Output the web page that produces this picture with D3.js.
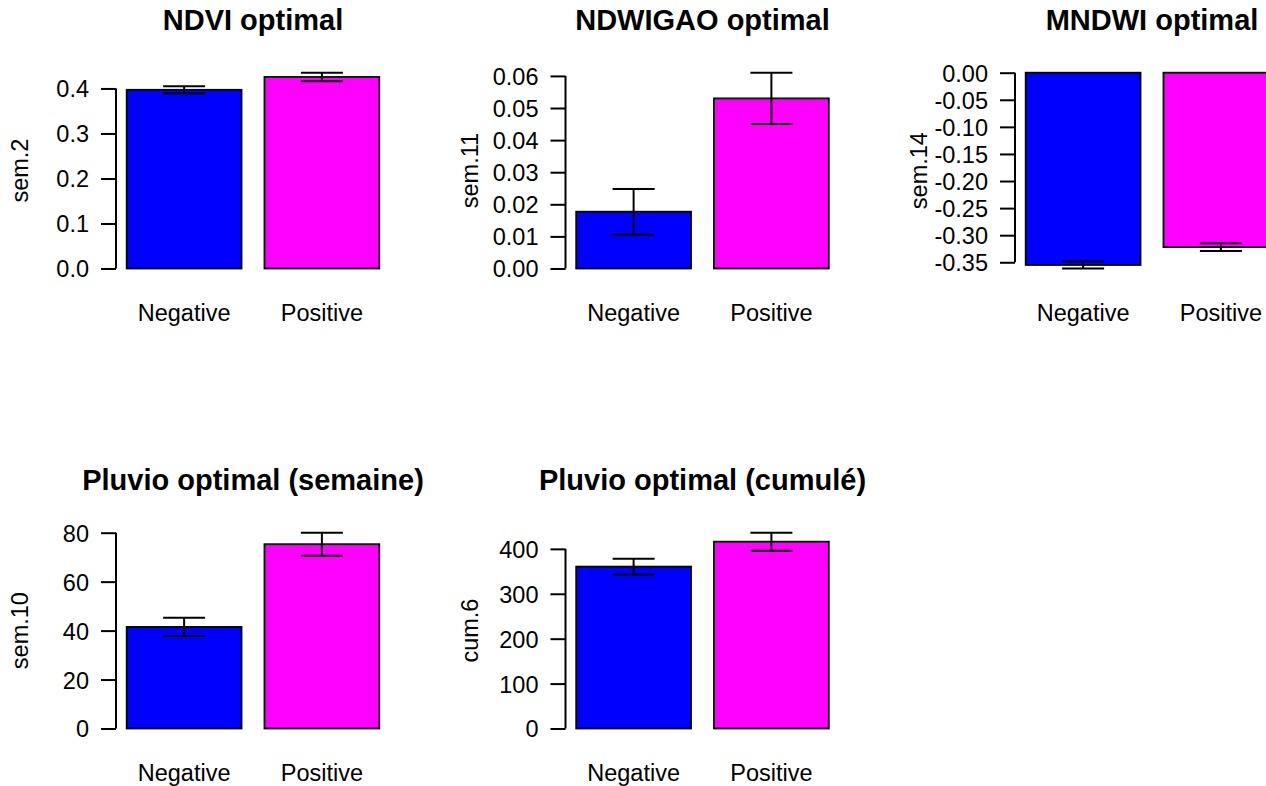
<html>
<head>
<style>
body { margin: 0; background: #fff; }
text { font-family: "Liberation Sans", Arial, sans-serif; fill: #000; }
.title { font-size: 29px; font-weight: bold; }
.lab { font-size: 23.5px; }
</style>
</head>
<script src="https://d3js.org/d3.v7.min.js"></script>
<body>
<div id="chart"></div>
<script>

var categories = ["Negative", "Positive"];
var colors = ["#0000ff", "#ff00ff"];

var titles = ["NDVI optimal", "NDWIGAO optimal", "MNDWI optimal",
              "Pluvio optimal (semaine)", "Pluvio optimal (cumulé)"];
var yLabels = ["sem.2", "sem.11", "sem.14", "sem.10", "cum.6"];

// means and standard errors, Negative / Positive
var ndviMean = [0.397, 0.4255],   ndviSe = [0.008, 0.0095];
var ndwiMean = [0.0177, 0.0530],  ndwiSe = [0.0071, 0.0080];
var mndwiMean = [-0.355, -0.322], mndwiSe = [0.0065, 0.007];
var semMean = [41.5, 75.3],       semSe = [3.7, 4.7];
var cumMean = [360.5, 416],       cumSe = [17.5, 20];

var ndviTicks = ["0.0", "0.1", "0.2", "0.3", "0.4"];
var ndwiTicks = ["0.00", "0.01", "0.02", "0.03", "0.04", "0.05", "0.06"];
var mndwiTicks = ["0.00", "-0.05", "-0.10", "-0.15", "-0.20", "-0.25", "-0.30", "-0.35"];
var semTicks = ["0", "20", "40", "60", "80"];
var cumTicks = ["0", "100", "200", "300", "400"];

var panels = [
  {mean: ndviMean, se: ndviSe, ticks: ndviTicks, col: 0, row: 0},
  {mean: ndwiMean, se: ndwiSe, ticks: ndwiTicks, col: 1, row: 0},
  {mean: mndwiMean, se: mndwiSe, ticks: mndwiTicks, col: 2, row: 0},
  {mean: semMean, se: semSe, ticks: semTicks, col: 0, row: 1},
  {mean: cumMean, se: cumSe, ticks: cumTicks, col: 1, row: 1}
];
panels.forEach(function(p, i) { p.title = titles[i]; p.ylab = yLabels[i]; });

var W = 1266, H = 786;
var colW = 449.5, rowH = 460;
var axisX = 116, capHalf = 21;

var svg = d3.select("#chart").append("svg")
    .attr("width", W)
    .attr("height", H);

svg.append("rect").attr("width", W).attr("height", H).attr("fill", "#fff");

panels.forEach(function(p) {
  var g = svg.append("g")
      .attr("transform", "translate(" + (p.col * colW) + "," + (p.row * rowH) + ")");

  var lo = d3.min(p.mean, function(d, i) { return d - p.se[i]; });
  var hi = d3.max(p.mean, function(d, i) { return d + p.se[i]; });

  var x = d3.scaleBand().domain(categories)
      .range([126.7, 379.3]).paddingInner(1 / 6).paddingOuter(0);
  var y = d3.scaleLinear()
      .domain([Math.min(0, lo), Math.max(0, hi)])
      .range([268.5, 72.7]);

  var data = categories.map(function(c, i) {
    return {name: c, mean: p.mean[i], se: p.se[i], color: colors[i]};
  });

  // bars
  g.selectAll("rect.bar")
    .data(data)
    .enter().append("rect")
      .attr("class", "bar")
      .attr("x", function(d) { return x(d.name); })
      .attr("width", x.bandwidth())
      .attr("y", function(d) { return y(Math.max(0, d.mean)); })
      .attr("height", function(d) { return Math.abs(y(d.mean) - y(0)); })
      .attr("fill", function(d) { return d.color; })
      .attr("stroke", "#000")
      .attr("stroke-width", 1.8);

  // error bars
  var eb = g.selectAll("g.err")
    .data(data)
    .enter().append("g")
      .attr("class", "err")
      .attr("transform", function(d) { return "translate(" + (x(d.name) + x.bandwidth() / 2) + ",0)"; })
      .attr("stroke", "#000")
      .attr("stroke-width", 2);
  eb.append("line")
      .attr("y1", function(d) { return y(d.mean - d.se); })
      .attr("y2", function(d) { return y(d.mean + d.se); });
  eb.append("line")
      .attr("x1", -capHalf).attr("x2", capHalf)
      .attr("y1", function(d) { return y(d.mean - d.se); })
      .attr("y2", function(d) { return y(d.mean - d.se); });
  eb.append("line")
      .attr("x1", -capHalf).attr("x2", capHalf)
      .attr("y1", function(d) { return y(d.mean + d.se); })
      .attr("y2", function(d) { return y(d.mean + d.se); });

  // y axis, R style: line only between first and last tick
  var tickVals = p.ticks.map(Number);
  var ax = g.append("g")
      .attr("transform", "translate(" + axisX + ",0)")
      .call(d3.axisLeft(y)
        .tickValues(tickVals)
        .tickSize(15)
        .tickPadding(12)
        .tickFormat(function(d, i) { return p.ticks[i]; }));
  ax.select(".domain").remove();
  ax.selectAll(".tick line").attr("stroke", "#000").attr("stroke-width", 2);
  ax.selectAll(".tick text")
      .attr("class", "lab")
      .attr("font-family", null)
      .attr("font-size", null)
      .attr("dy", "0.36em");
  ax.append("line")
      .attr("y1", y(d3.min(tickVals)))
      .attr("y2", y(d3.max(tickVals)))
      .attr("stroke", "#000")
      .attr("stroke-width", 2);
  ax.attr("font-family", null).attr("font-size", null);

  // category labels
  g.selectAll("text.cat")
    .data(categories)
    .enter().append("text")
      .attr("class", "lab cat")
      .attr("x", function(d) { return x(d) + x.bandwidth() / 2; })
      .attr("y", 321)
      .attr("text-anchor", "middle")
      .text(function(d) { return d; });

  // y label
  g.append("text")
      .attr("class", "lab")
      .attr("transform", "translate(" + (axisX - 88) + ",170.6) rotate(-90)")
      .attr("text-anchor", "middle")
      .text(p.ylab);

  // title
  g.append("text")
      .attr("class", "title")
      .attr("x", (x.range()[0] + x.range()[1]) / 2)
      .attr("y", 30)
      .attr("text-anchor", "middle")
      .text(p.title);
});

</script>
</body>
</html>
